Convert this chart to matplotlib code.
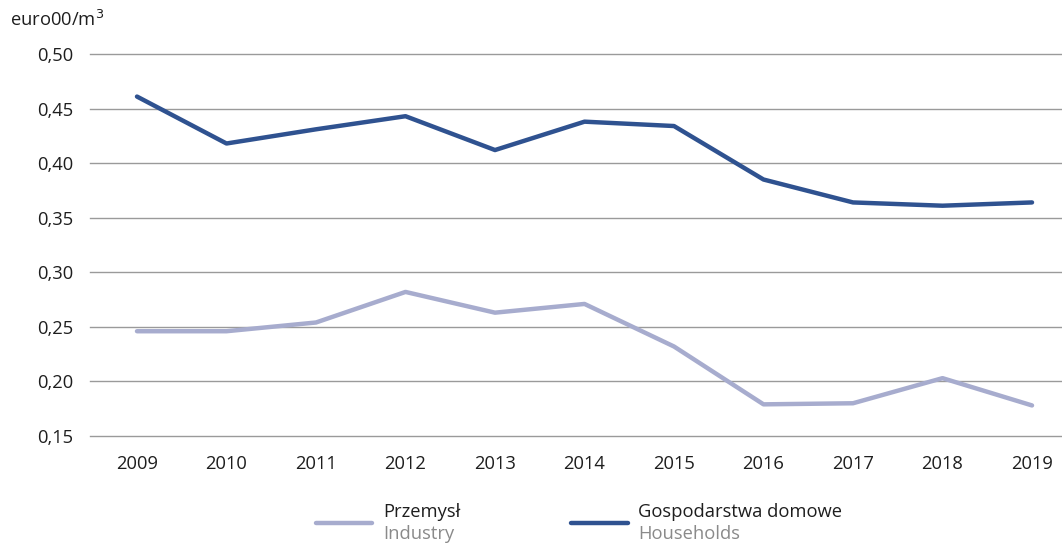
import matplotlib
matplotlib.use("Agg")
import matplotlib.pyplot as plt
from matplotlib.lines import Line2D

plt.rcParams['font.family'] = ['Open Sans', 'DejaVu Sans']

years = [2009, 2010, 2011, 2012, 2013, 2014, 2015, 2016, 2017, 2018, 2019]
industry = [0.246, 0.246, 0.254, 0.282, 0.263, 0.271, 0.232, 0.179, 0.180, 0.203, 0.178]
households = [0.461, 0.418, 0.431, 0.443, 0.412, 0.438, 0.434, 0.385, 0.364, 0.361, 0.364]
yticks = [0.15, 0.20, 0.25, 0.30, 0.35, 0.40, 0.45, 0.50]

c_ind = '#a7acce'
c_hh = '#2f5290'
fs = 13.2

fig = plt.figure(figsize=(10.62, 5.44), dpi=100)
ax = fig.add_axes([90/1062, 1-436/544, 1-90/1062, (436-54)/544])

x = list(range(len(years)))
ax.plot(x, industry, color=c_ind, lw=3.2, solid_capstyle='round', solid_joinstyle='round', zorder=3)
ax.plot(x, households, color=c_hh, lw=3.2, solid_capstyle='round', solid_joinstyle='round', zorder=3)

ax.set_xlim(-0.525, len(years) - 1 + 0.335)
ax.set_ylim(0.15, 0.50)
ax.set_yticks(yticks)
ax.set_yticklabels([f'{v:.2f}'.replace('.', ',') for v in yticks])
ax.set_xticks(x)
ax.set_xticklabels([str(y) for y in years])
ax.tick_params(axis='both', length=0, labelsize=fs, colors='#1e1e1e')
ax.tick_params(axis='y', pad=12)
ax.tick_params(axis='x', pad=14)
for gl in ax.yaxis.get_gridlines():
    pass
ax.grid(axis='y', color='#9a9a9a', lw=1.0)
for gl in ax.get_ygridlines():
    gl.set_clip_on(False)
ax.set_axisbelow(True)
for s in ax.spines.values():
    s.set_visible(False)

fig.text(10/1062, 1-26/544, 'euro00/m$^3$', fontsize=fs, color='#1e1e1e', va='baseline')

# legend
fig.add_artist(Line2D([316/1062, 372/1062], [1-523/544, 1-523/544], color=c_ind, lw=3.2, solid_capstyle='round'))
fig.text(383/1062, 1-512/544, 'Przemysł', fontsize=fs, color='#1e1e1e', va='center')
fig.text(383/1062, 1-534/544, 'Industry', fontsize=fs, color='#8a8a8a', va='center')
fig.add_artist(Line2D([571/1062, 628/1062], [1-523/544, 1-523/544], color=c_hh, lw=3.2, solid_capstyle='round'))
fig.text(638/1062, 1-512/544, 'Gospodarstwa domowe', fontsize=fs, color='#1e1e1e', va='center')
fig.text(638/1062, 1-534/544, 'Households', fontsize=fs, color='#8a8a8a', va='center')

fig.savefig('out.png', dpi=100)
